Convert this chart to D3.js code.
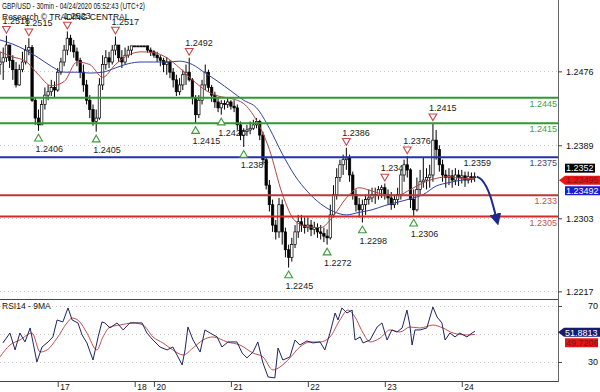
<!DOCTYPE html>
<html>
<head>
<meta charset="utf-8">
<script src="https://cdn.jsdelivr.net/npm/d3@7"></script>
<style>
  body { margin: 0; background: #fff; }
  svg { display: block; }
</style>
</head>
<body>
<svg id="chart" width="600" height="392"></svg>
<script>
// GBP/USD 30min, one entry per hour slot: [open, high, low, close]
const bars = [
  [1.2484, 1.2499, 1.2472, 1.2487], [1.2487, 1.2504, 1.2466, 1.2492], [1.2492, 1.2518, 1.2487, 1.2507],
  [1.2507, 1.2507, 1.2480, 1.2489], [1.2489, 1.2495, 1.2466, 1.2478], [1.2478, 1.2487, 1.2457, 1.2460],
  [1.2460, 1.2484, 1.2459, 1.2478], [1.2478, 1.2499, 1.2475, 1.2487], [1.2487, 1.2507, 1.2484, 1.2501],
  [1.2501, 1.2515, 1.2495, 1.2504], [1.2504, 1.2507, 1.2440, 1.2442], [1.2442, 1.2445, 1.2413, 1.2421],
  [1.2421, 1.2431, 1.2406, 1.2413], [1.2413, 1.2442, 1.2413, 1.2437], [1.2437, 1.2457, 1.2431, 1.2448],
  [1.2448, 1.2460, 1.2442, 1.2452], [1.2452, 1.2466, 1.2447, 1.2457], [1.2457, 1.2464, 1.2445, 1.2454],
  [1.2454, 1.2480, 1.2452, 1.2475], [1.2475, 1.2492, 1.2472, 1.2487], [1.2487, 1.2507, 1.2482, 1.2501],
  [1.2501, 1.2523, 1.2495, 1.2515], [1.2515, 1.2519, 1.2499, 1.2507], [1.2507, 1.2513, 1.2492, 1.2499],
  [1.2499, 1.2504, 1.2482, 1.2489], [1.2489, 1.2492, 1.2468, 1.2475], [1.2475, 1.2484, 1.2452, 1.2460],
  [1.2460, 1.2466, 1.2437, 1.2442], [1.2442, 1.2448, 1.2421, 1.2431], [1.2431, 1.2437, 1.2412, 1.2417],
  [1.2417, 1.2431, 1.2405, 1.2421], [1.2421, 1.2468, 1.2419, 1.2460], [1.2460, 1.2495, 1.2454, 1.2484],
  [1.2484, 1.2501, 1.2478, 1.2492], [1.2492, 1.2499, 1.2480, 1.2487], [1.2487, 1.2507, 1.2484, 1.2501],
  [1.2501, 1.2517, 1.2495, 1.2507], [1.2507, 1.2507, 1.2487, 1.2492], [1.2492, 1.2501, 1.2480, 1.2487],
  [1.2487, 1.2504, 1.2484, 1.2495], [1.2495, 1.2506, 1.2492, 1.2501], [1.2501, 1.2506, 1.2495, 1.2506],
  [1.2506, 1.2506, 1.2506, 1.2506], [1.2506, 1.2506, 1.2506, 1.2506], [1.2506, 1.2506, 1.2506, 1.2506],
  [1.2506, 1.2506, 1.2506, 1.2506], [1.2506, 1.2506, 1.2498, 1.2501], [1.2501, 1.2504, 1.2494, 1.2499],
  [1.2499, 1.2501, 1.2492, 1.2495], [1.2495, 1.2499, 1.2487, 1.2492], [1.2492, 1.2495, 1.2482, 1.2489],
  [1.2489, 1.2492, 1.2475, 1.2484], [1.2484, 1.2493, 1.2472, 1.2487], [1.2487, 1.2489, 1.2468, 1.2475],
  [1.2475, 1.2480, 1.2457, 1.2466], [1.2466, 1.2472, 1.2447, 1.2452], [1.2452, 1.2468, 1.2448, 1.2460],
  [1.2460, 1.2478, 1.2454, 1.2472], [1.2472, 1.2484, 1.2460, 1.2475], [1.2475, 1.2492, 1.2464, 1.2466],
  [1.2466, 1.2468, 1.2437, 1.2445], [1.2445, 1.2448, 1.2415, 1.2425], [1.2425, 1.2448, 1.2421, 1.2442],
  [1.2442, 1.2466, 1.2437, 1.2460], [1.2460, 1.2484, 1.2454, 1.2475], [1.2475, 1.2478, 1.2452, 1.2457],
  [1.2457, 1.2460, 1.2440, 1.2448], [1.2448, 1.2452, 1.2433, 1.2440], [1.2440, 1.2445, 1.2428, 1.2433],
  [1.2433, 1.2442, 1.2425, 1.2438], [1.2438, 1.2442, 1.2431, 1.2437], [1.2437, 1.2444, 1.2433, 1.2440],
  [1.2440, 1.2442, 1.2431, 1.2435], [1.2435, 1.2442, 1.2428, 1.2433], [1.2433, 1.2437, 1.2407, 1.2413],
  [1.2413, 1.2417, 1.2395, 1.2401], [1.2401, 1.2409, 1.2387, 1.2405], [1.2405, 1.2413, 1.2400, 1.2407],
  [1.2407, 1.2417, 1.2402, 1.2409], [1.2409, 1.2419, 1.2407, 1.2413], [1.2413, 1.2421, 1.2409, 1.2417],
  [1.2417, 1.2419, 1.2395, 1.2401], [1.2401, 1.2405, 1.2366, 1.2372], [1.2372, 1.2374, 1.2337, 1.2342],
  [1.2342, 1.2348, 1.2311, 1.2319], [1.2319, 1.2325, 1.2287, 1.2295], [1.2295, 1.2301, 1.2278, 1.2287],
  [1.2287, 1.2327, 1.2280, 1.2319], [1.2319, 1.2325, 1.2272, 1.2287], [1.2287, 1.2292, 1.2257, 1.2266],
  [1.2266, 1.2272, 1.2245, 1.2257], [1.2257, 1.2280, 1.2252, 1.2272], [1.2272, 1.2295, 1.2268, 1.2287],
  [1.2287, 1.2307, 1.2280, 1.2299], [1.2299, 1.2307, 1.2287, 1.2295], [1.2295, 1.2304, 1.2285, 1.2292],
  [1.2292, 1.2304, 1.2287, 1.2295], [1.2295, 1.2301, 1.2282, 1.2290], [1.2290, 1.2299, 1.2284, 1.2292],
  [1.2292, 1.2297, 1.2280, 1.2287], [1.2287, 1.2295, 1.2278, 1.2285], [1.2285, 1.2292, 1.2275, 1.2282],
  [1.2282, 1.2290, 1.2272, 1.2280], [1.2280, 1.2319, 1.2278, 1.2307], [1.2307, 1.2342, 1.2304, 1.2331],
  [1.2331, 1.2362, 1.2325, 1.2351], [1.2351, 1.2372, 1.2346, 1.2366], [1.2366, 1.2378, 1.2354, 1.2372],
  [1.2372, 1.2386, 1.2360, 1.2374], [1.2374, 1.2378, 1.2346, 1.2354], [1.2354, 1.2358, 1.2325, 1.2331],
  [1.2331, 1.2337, 1.2311, 1.2319], [1.2319, 1.2327, 1.2304, 1.2313], [1.2313, 1.2325, 1.2298, 1.2319],
  [1.2319, 1.2331, 1.2307, 1.2325], [1.2325, 1.2337, 1.2319, 1.2327], [1.2327, 1.2339, 1.2322, 1.2331],
  [1.2331, 1.2339, 1.2320, 1.2330], [1.2330, 1.2341, 1.2325, 1.2337], [1.2337, 1.2342, 1.2327, 1.2339],
  [1.2339, 1.2344, 1.2325, 1.2331], [1.2331, 1.2337, 1.2319, 1.2327], [1.2327, 1.2334, 1.2313, 1.2319],
  [1.2319, 1.2331, 1.2315, 1.2325], [1.2325, 1.2339, 1.2319, 1.2331], [1.2331, 1.2360, 1.2325, 1.2354],
  [1.2354, 1.2372, 1.2346, 1.2366], [1.2366, 1.2376, 1.2351, 1.2360], [1.2360, 1.2362, 1.2315, 1.2325],
  [1.2325, 1.2337, 1.2306, 1.2313], [1.2313, 1.2351, 1.2311, 1.2337], [1.2337, 1.2360, 1.2331, 1.2346],
  [1.2346, 1.2374, 1.2339, 1.2348], [1.2348, 1.2362, 1.2337, 1.2351], [1.2351, 1.2366, 1.2339, 1.2354],
  [1.2354, 1.2415, 1.2346, 1.2395], [1.2395, 1.2407, 1.2372, 1.2384], [1.2384, 1.2389, 1.2358, 1.2366],
  [1.2366, 1.2372, 1.2346, 1.2354], [1.2354, 1.2360, 1.2339, 1.2351], [1.2351, 1.2362, 1.2342, 1.2353],
  [1.2353, 1.2360, 1.2339, 1.2348], [1.2348, 1.2362, 1.2342, 1.2354], [1.2354, 1.2360, 1.2341, 1.2351],
  [1.2351, 1.2360, 1.2344, 1.2353], [1.2353, 1.2358, 1.2340, 1.2348], [1.2348, 1.2358, 1.2344, 1.2352],
  [1.2352, 1.2357, 1.2345, 1.2351], [1.2351, 1.2357, 1.2346, 1.2352]
];

// moving averages read at every 4th slot
const maIdx = [0, 4, 8, 12, 16, 20, 24, 28, 32, 36, 40, 44, 48, 52, 56, 60, 64, 68, 72, 76,
  80, 84, 88, 92, 96, 100, 104, 108, 112, 116, 120, 124, 128, 132, 136, 140, 144, 148];
const maFast = [1.2499, 1.2493, 1.2488, 1.2472, 1.2459, 1.2464, 1.2487, 1.2484, 1.2469, 1.2484,
  1.2495, 1.2499, 1.2498, 1.2492, 1.2480, 1.2466, 1.2454, 1.2447, 1.2444, 1.2438,
  1.2418, 1.2384, 1.2332, 1.2300, 1.2293, 1.2292, 1.2306, 1.2327, 1.2339, 1.2335,
  1.2331, 1.2330, 1.2337, 1.2345, 1.2350, 1.2352, 1.2350, 1.2350];
const maSlow = [1.2513, 1.2508, 1.2501, 1.2492, 1.2482, 1.2475, 1.2475, 1.2474, 1.2475, 1.2480,
  1.2485, 1.2487, 1.2487, 1.2487, 1.2488, 1.2484, 1.2474, 1.2464, 1.2453, 1.2442,
  1.2433, 1.2409, 1.2379, 1.2353, 1.2334, 1.2320, 1.2311, 1.2307, 1.2310, 1.2313,
  1.2318, 1.2322, 1.2326, 1.2331, 1.2341, 1.2345, 1.2348, 1.2349];

// RSI14 and its 9MA, [slot, value]
const rsi = [
  [0.9, 43.6], [3.1, 50.7], [4.7, 38.6], [6.2, 50.7], [7.8, 44.3], [9.4, 54.3], [11.5, 30.0],
  [13.1, 40.7], [15, 44.3], [16.5, 47.9], [17.8, 60.0], [19.6, 58.6], [21.2, 68.6], [22.5, 60.0],
  [24.3, 57.9], [25.6, 49.3], [27.1, 43.6], [29, 31.4], [30.6, 47.9], [31.8, 58.6], [32.7, 57.9],
  [34.3, 54.3], [36.5, 57.9], [38.4, 52.9], [40.5, 57.9], [44.3, 57.9], [45.8, 50.7], [47.7, 45.7],
  [49.9, 40.7], [52.1, 38.6], [53.9, 40.7], [56.8, 27.9], [57.7, 38.6], [58.6, 55.0], [60.2, 45.7],
  [62.4, 37.1], [63.9, 52.9], [65.5, 50.7], [67.7, 47.9], [69.2, 40.7], [71.1, 44.3], [73.9, 44.3],
  [75.5, 36.4], [77, 32.9], [78.9, 37.1], [80.4, 44.3], [82, 29.3], [83.6, 19.3], [85.7, 18.6],
  [86.7, 40.0], [88.2, 31.4], [90.4, 33.6], [92, 45.7], [93.5, 42.1], [95.7, 45.0], [97.6, 43.6],
  [99.8, 44.3], [101.3, 38.6], [102.9, 50.7], [104.5, 65.0], [105.4, 60.0], [106.6, 68.6], [108.2, 65.0],
  [109.8, 67.1], [110.7, 45.7], [112.3, 47.9], [113.2, 43.6], [115.4, 45.7], [117.6, 55.0], [119.1, 57.9],
  [120.7, 45.7], [122.2, 52.9], [123.8, 51.4], [125.4, 54.3], [126.9, 67.1], [127.8, 56.4], [128.5, 42.1],
  [129.4, 52.9], [131, 52.9], [133.1, 54.3], [135, 69.3], [136.3, 62.1], [137.8, 57.9], [138.8, 45.7],
  [140.3, 50.7], [141.9, 47.9], [143.4, 50.7], [145.6, 47.9], [147.2, 50.7], [148.1, 51.9]
];
const rsiMa = [
  [0, 33.6], [3.1, 42.1], [6.2, 45.7], [10, 50.7], [12.5, 37.1], [14.7, 38.6], [17.8, 47.1],
  [20.9, 57.9], [22.5, 61.4], [24.9, 58.6], [27.1, 50.7], [30.2, 38.6], [32.1, 47.9], [34.3, 55.0],
  [37.4, 56.4], [41.5, 57.9], [44.6, 56.4], [47.7, 47.9], [50.8, 43.6], [53.9, 38.6], [57.1, 35.0],
  [60.2, 40.0], [63.3, 45.7], [66.4, 47.9], [70.8, 44.3], [74.8, 42.1], [78.9, 36.4], [82, 33.6],
  [85.1, 24.3], [87.3, 26.4], [90.4, 32.9], [93.5, 40.7], [96.7, 44.3], [99.8, 44.3], [102.9, 47.9],
  [106, 60.0], [108.5, 67.1], [110.7, 62.1], [113.2, 50.7], [115.4, 44.3], [118.5, 47.1], [121.6, 52.9],
  [124.7, 51.4], [127.8, 55.0], [131, 54.3], [135, 56.4], [138.1, 54.3], [141.3, 50.7], [145.6, 49.3],
  [148.1, 49.7]
];

// swing points [slot, price, label]
const peaks = [[2, 1.2518, '1.2518'], [9, 1.2515, '1.2515'], [21, 1.2523, '1.2523'], [36, 1.2517, '1.2517'],
  [59, 1.2492, '1.2492'], [108, 1.2386, '1.2386'], [120, 1.2344, '1.2344'], [127, 1.2376, '1.2376'],
  [135, 1.2415, '1.2415']];
const troughs = [[12, 1.2406, '1.2406'], [30, 1.2405, '1.2405'], [61, 1.2415, '1.2415'], [69, 1.2425, '1.2425'],
  [76, 1.2387, '1.2387'], [90, 1.2245, '1.2245'], [102, 1.2272, '1.2272'], [113, 1.2298, '1.2298'],
  [129, 1.2306, '1.2306']];

// support / resistance levels
const levelPrices = [1.2445, 1.2415, 1.2375, 1.233, 1.2305];
const levelLabels = ['1.2445', '1.2415', '1.2375', '1.233', '1.2305'];
const pivotNote = [144.5, 1.2365, '1.2359'];

const forecast = [[148.7, 1.2352], [150.3, 1.2348], [152.8, 1.2330], [155, 1.2300]];

const priceTicks = [1.2476, 1.2389, 1.2303, 1.2217];
const rsiTicks = [70, 30];
const rsiGrid = [70, 50, 30];
const dayTicks = [18, 42, 48, 72, 96, 120, 144];
const dayLabels = ['17', '18', '20', '21', '22', '23', '24'];

const lastPrice = 1.2352, lastFast = 1.23495, lastSlow = 1.23492;
const lastRsi = 51.8813, lastRsiMa = 49.7206;

// ---- drawing ----
const FONT = '"Liberation Sans", Arial, sans-serif';
const plotRight = 558;
const svg = d3.select('#chart').attr('font-family', FONT);

const x = d3.scaleLinear().domain([0, 174]).range([0, plotRight]);
const y = d3.scaleLinear().domain([1.2208, 1.2560]).range([299, 0]);
const yr = d3.scaleLinear().domain([16.4, 75]).range([381, 299]);

const levelColors = ['#2f9a2f', '#2f9a2f', '#2233a8', '#b33b3b', '#d42a2a'];
const levelTextColors = ['#4c9c4c', '#4c9c4c', '#404870', '#c45050', '#c45050'];

// dotted gridlines
svg.append('g').selectAll('line').data(priceTicks).join('line')
  .attr('x1', 0).attr('x2', plotRight)
  .attr('y1', d => Math.round(y(d)) + 0.5).attr('y2', d => Math.round(y(d)) + 0.5)
  .attr('stroke', '#c8c8c8').attr('stroke-dasharray', '1,3');
svg.append('g').selectAll('line').data(rsiGrid).join('line')
  .attr('x1', 0).attr('x2', plotRight)
  .attr('y1', d => Math.round(yr(d)) + 0.5).attr('y2', d => Math.round(yr(d)) + 0.5)
  .attr('stroke', '#c8c8c8').attr('stroke-dasharray', '1,3');

// swing labels (drawn under the candles)
const gAnn = svg.append('g').attr('font-size', 9).attr('fill', '#1a1a1a');
gAnn.selectAll('text.pk').data(peaks).join('text').attr('class', 'pk')
  .attr('x', d => x(d[0]) - 4).attr('y', d => y(d[1]) - 12).text(d => d[2]);
gAnn.selectAll('text.tr').data(troughs).join('text').attr('class', 'tr')
  .attr('x', d => x(d[0]) - 3).attr('y', d => y(d[1]) + 21).text(d => d[2]);

// titles
svg.append('text').attr('x', 2).attr('y', 9).attr('font-size', 9).attr('fill', '#111')
  .attr('textLength', 143).attr('lengthAdjust', 'spacingAndGlyphs')
  .text('GBP/USD - 30min - 04/24/2020 05:52:43 (UTC+2)');
svg.append('text').attr('x', 2).attr('y', 20).attr('font-size', 8.5).attr('fill', '#111')
  .text('Research © TRADING CENTRAL');
svg.append('text').attr('x', 2).attr('y', 309).attr('font-size', 8.5).attr('fill', '#111')
  .text('RSI14 - 9MA');

// candles
const gC = svg.append('g');
gC.selectAll('line').data(bars).join('line')
  .attr('x1', (d, i) => x(i)).attr('x2', (d, i) => x(i))
  .attr('y1', d => y(d[1])).attr('y2', d => y(d[2]))
  .attr('stroke', '#000').attr('stroke-width', 1);
gC.selectAll('rect').data(bars).join('rect')
  .attr('x', (d, i) => x(i) - 1.2).attr('width', 2.4)
  .attr('y', d => y(Math.max(d[0], d[3])))
  .attr('height', d => Math.max(1, Math.abs(y(d[0]) - y(d[3]))))
  .attr('fill', d => d[3] > d[0] ? '#fff' : '#000')
  .attr('stroke', '#000').attr('stroke-width', 0.7);

// moving averages
const priceLine = d3.line().x(d => x(d[0])).y(d => y(d[1])).curve(d3.curveMonotoneX);
svg.append('path').datum(maIdx.map((i, k) => [i, maSlow[k]]))
  .attr('d', priceLine).attr('fill', 'none').attr('stroke', '#3040a0').attr('stroke-width', 1);
svg.append('path').datum(maIdx.map((i, k) => [i, maFast[k]]))
  .attr('d', priceLine).attr('fill', 'none').attr('stroke', '#b34545').attr('stroke-width', 1);

// level lines and labels
svg.append('g').selectAll('line').data(levelPrices).join('line')
  .attr('x1', 0).attr('x2', plotRight)
  .attr('y1', d => y(d)).attr('y2', d => y(d))
  .attr('stroke', (d, i) => levelColors[i]).attr('stroke-width', 2);
svg.append('g').attr('font-size', 9).attr('text-anchor', 'end')
  .selectAll('text').data(levelPrices).join('text')
  .attr('x', plotRight - 1).attr('y', d => y(d) + 9)
  .attr('fill', (d, i) => levelTextColors[i]).text((d, i) => levelLabels[i]);
svg.append('text').attr('font-size', 9).attr('fill', '#1a1a1a')
  .attr('x', x(pivotNote[0])).attr('y', y(pivotNote[1])).text(pivotNote[2]);

// swing markers
const tri = d3.symbol().type(d3.symbolTriangle).size(26);
svg.append('g').selectAll('path').data(peaks).join('path')
  .attr('d', tri).attr('transform', d => `translate(${x(d[0])},${y(d[1]) - 7}) rotate(180)`)
  .attr('fill', '#fff').attr('stroke', '#c84848').attr('stroke-width', 1.1);
svg.append('g').selectAll('path').data(troughs).join('path')
  .attr('d', tri).attr('transform', d => `translate(${x(d[0])},${y(d[1]) + 8})`)
  .attr('fill', '#fff').attr('stroke', '#3d9a3d').attr('stroke-width', 1.1);

// forecast arrow
svg.append('defs').append('marker').attr('id', 'arr')
  .attr('viewBox', '0 0 10 10').attr('refX', 6).attr('refY', 5)
  .attr('markerWidth', 6).attr('markerHeight', 6).attr('orient', 'auto')
  .append('path').attr('d', 'M0,0L10,5L0,10z').attr('fill', '#1c2a8c');
svg.append('path').datum(forecast)
  .attr('d', d3.line().x(d => x(d[0])).y(d => y(d[1])).curve(d3.curveMonotoneX))
  .attr('fill', 'none').attr('stroke', '#1c2a8c').attr('stroke-width', 2)
  .attr('marker-end', 'url(#arr)');

// RSI pane
const rsiLine = d3.line().x(d => x(d[0])).y(d => yr(d[1]));
svg.append('path').datum(rsiMa).attr('d', rsiLine.curve(d3.curveMonotoneX))
  .attr('fill', 'none').attr('stroke', '#c05050').attr('stroke-width', 1);
svg.append('path').datum(rsi).attr('d', rsiLine.curve(d3.curveLinear))
  .attr('fill', 'none').attr('stroke', '#1f2460').attr('stroke-width', 1);

// frame lines
svg.append('line').attr('x1', 0).attr('x2', plotRight).attr('y1', 299.5).attr('y2', 299.5)
  .attr('stroke', '#444');
svg.append('line').attr('x1', 0).attr('x2', plotRight).attr('y1', 381.5).attr('y2', 381.5)
  .attr('stroke', '#444');
svg.append('line').attr('x1', plotRight + 0.5).attr('x2', plotRight + 0.5).attr('y1', 0).attr('y2', 382)
  .attr('stroke', '#666');

// price axis
const pAxis = svg.append('g').attr('transform', `translate(${plotRight},0)`)
  .call(d3.axisRight(y).tickValues(priceTicks).tickSize(4).tickPadding(4).tickFormat(d3.format('.4f')));
pAxis.attr('font-family', FONT).attr('font-size', 9);
pAxis.select('.domain').remove();
pAxis.selectAll('.tick line').attr('stroke', '#444');
pAxis.selectAll('.tick text').attr('fill', '#111');

// RSI axis
const rAxis = svg.append('g').attr('transform', `translate(${plotRight},0)`)
  .call(d3.axisRight(yr).tickValues(rsiTicks).tickSize(4).tickPadding(36));
rAxis.attr('font-family', FONT).attr('font-size', 9).attr('text-anchor', 'end');
rAxis.select('.domain').remove();
rAxis.selectAll('.tick line').attr('stroke', '#444');
rAxis.selectAll('.tick text').attr('fill', '#111');

// day axis
const dAxis = svg.append('g').attr('transform', 'translate(0,381)')
  .call(d3.axisBottom(x).tickValues(dayTicks).tickSize(6).tickFormat((d, i) => dayLabels[i]));
dAxis.attr('font-family', FONT).attr('font-size', 8.5);
dAxis.select('.domain').remove();
dAxis.selectAll('.tick line').attr('stroke', '#444');
dAxis.selectAll('.tick text').attr('fill', '#111').attr('text-anchor', 'start')
  .attr('x', 2).attr('y', 3).attr('dy', '0.71em');

// last value tags
function tag(yc, value, opts) {
  const g = svg.append('g');
  const x0 = opts.x0, x1 = opts.x1, h = 9;
  const pts = opts.pointer
    ? `${x0 - 6},${yc} ${x0},${yc - h / 2} ${x1},${yc - h / 2} ${x1},${yc + h / 2} ${x0},${yc + h / 2}`
    : `${x0},${yc - h / 2} ${x1},${yc - h / 2} ${x1},${yc + h / 2} ${x0},${yc + h / 2}`;
  g.append('polygon').attr('points', pts).attr('fill', opts.bg);
  g.append('text').attr('x', x0 + 1).attr('y', yc + 3.3).attr('font-size', 9)
    .attr('fill', opts.fg).text(value);
}
const yl = y(lastPrice);
tag(yl - 8.5, d3.format('.4f')(lastPrice), { x0: 565, x1: 595, bg: '#000', fg: '#fff' });
tag(yl + 3.5, d3.format('.5f')(lastFast), { x0: 565, x1: 600, bg: '#e01818', fg: '#8a1010', pointer: true });
tag(yl + 14, d3.format('.5f')(lastSlow), { x0: 565, x1: 600, bg: '#1a1ad0', fg: '#fff' });
tag(yr(lastRsi) + 1, d3.format('.4f')(lastRsi), { x0: 564, x1: 600, bg: '#161a70', fg: '#fff', pointer: true });
tag(yr(lastRsiMa) + 8.5, d3.format('.4f')(lastRsiMa), { x0: 565, x1: 598, bg: '#e01818', fg: '#8a1010' });
</script>
</body>
</html>
